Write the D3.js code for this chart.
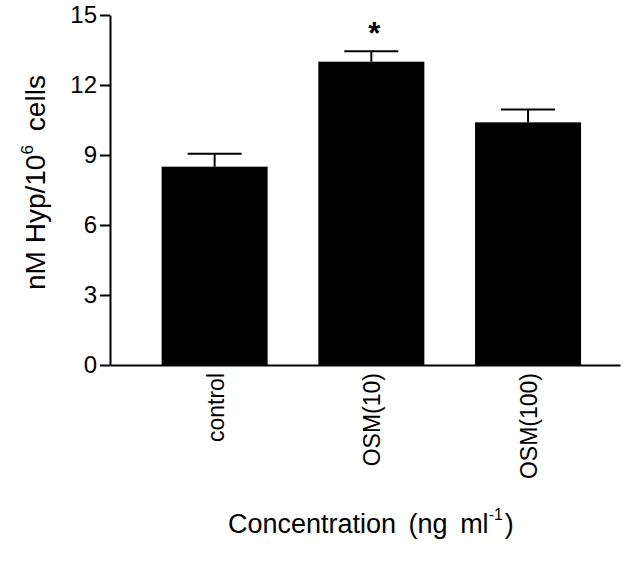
<!DOCTYPE html>
<html>
<head>
<meta charset="utf-8">
<script src="https://cdn.jsdelivr.net/npm/d3@7"></script>
<style>
  body { margin: 0; background: #fff; }
  svg { display: block; }
  text { font-family: "Liberation Sans", Arial, Helvetica, sans-serif; fill: #000; }
</style>
</head>
<body>
<svg id="chart"></svg>
<script>
// values
var groups = ["control", "OSM(10)", "OSM(100)"];
var means = [8.5, 13.0, 10.4];
var errors = [0.55, 0.45, 0.55];
var significant = [false, true, false];
var yTicks = [0, 3, 6, 9, 12, 15];

var width = 640,
    height = 567;

var svg = d3.select("svg#chart")
  .attr("width", width)
  .attr("height", height);

var y = d3.scaleLinear().domain([0, 15]).range([365, 15]);

var x = d3.scaleBand()
  .domain(groups)
  .range([110, 620])
  .paddingInner(0.3235)
  .paddingOuter(0.289)
  .align(0.57);

// bars
svg.append("g").selectAll("rect")
  .data(groups)
  .enter().append("rect")
  .attr("x", d => x(d))
  .attr("width", x.bandwidth())
  .attr("y", (d, i) => y(means[i]))
  .attr("height", (d, i) => y(0) - y(means[i]))
  .attr("fill", "#000");

// error bars (upper only)
var eb = svg.append("g")
  .attr("stroke", "#000")
  .attr("stroke-width", 2);

groups.forEach(function(g, i) {
  var cx = x(g) + x.bandwidth() / 2;
  eb.append("line")
    .attr("x1", cx).attr("x2", cx)
    .attr("y1", y(means[i])).attr("y2", y(means[i] + errors[i]));
  eb.append("line")
    .attr("x1", cx - 27).attr("x2", cx + 27)
    .attr("y1", y(means[i] + errors[i])).attr("y2", y(means[i] + errors[i]));
  if (significant[i]) {
    svg.append("text")
      .attr("x", cx + 3)
      .attr("y", y(means[i] + errors[i]) - 4)
      .attr("text-anchor", "middle")
      .style("font-size", "31px")
      .style("font-weight", "bold")
      .attr("dy", "0.55em")
      .attr("transform", "translate(0,-20)")
      .text("*");
  }
});

// y axis
var yAxis = svg.append("g")
  .attr("transform", translate(110, 0))
  .call(d3.axisLeft(y).tickValues(yTicks).tickSize(10).tickSizeOuter(0).tickPadding(3));

yAxis.select(".domain").attr("stroke-width", 2);
yAxis.selectAll(".tick line").attr("stroke-width", 2);
yAxis.selectAll(".tick text")
  .style("font-size", "24px")
  .attr("font-family", null);

// x axis
var xAxis = svg.append("g")
  .attr("transform", translate(0, 365))
  .call(d3.axisBottom(x).tickSize(0).tickSizeOuter(0).tickPadding(0));

xAxis.select(".domain").attr("stroke-width", 2);
xAxis.selectAll(".tick text")
  .attr("font-family", null)
  .style("font-size", "23px")
  .attr("text-anchor", "end")
  .attr("dy", null)
  .attr("y", 0)
  .attr("transform", "translate(9,8) rotate(-90)");

// y axis title
var yt = svg.append("text")
  .attr("transform", translate(45, 290) + " rotate(-90)")
  .style("font-size", "28px");
yt.append("tspan").text("nM Hyp/10");
yt.append("tspan").attr("dy", -12).style("font-size", "17px").text("6");
yt.append("tspan").attr("dy", 12).attr("dx", 14).text("cells");

// x axis title
var xt = svg.append("text")
  .attr("x", 228)
  .attr("y", 533)
  .style("font-size", "27px")
  .style("word-spacing", "5px");
xt.append("tspan").text("Concentration (ng ml");
xt.append("tspan").attr("dy", -13).style("font-size", "16px").text("-1");
xt.append("tspan").attr("dy", 13).attr("dx", 2).text(")");

function translate(x, y) {
  return 'translate(' + String(x) + ',' + String(y) + ')';
}
</script>
</body>
</html>
